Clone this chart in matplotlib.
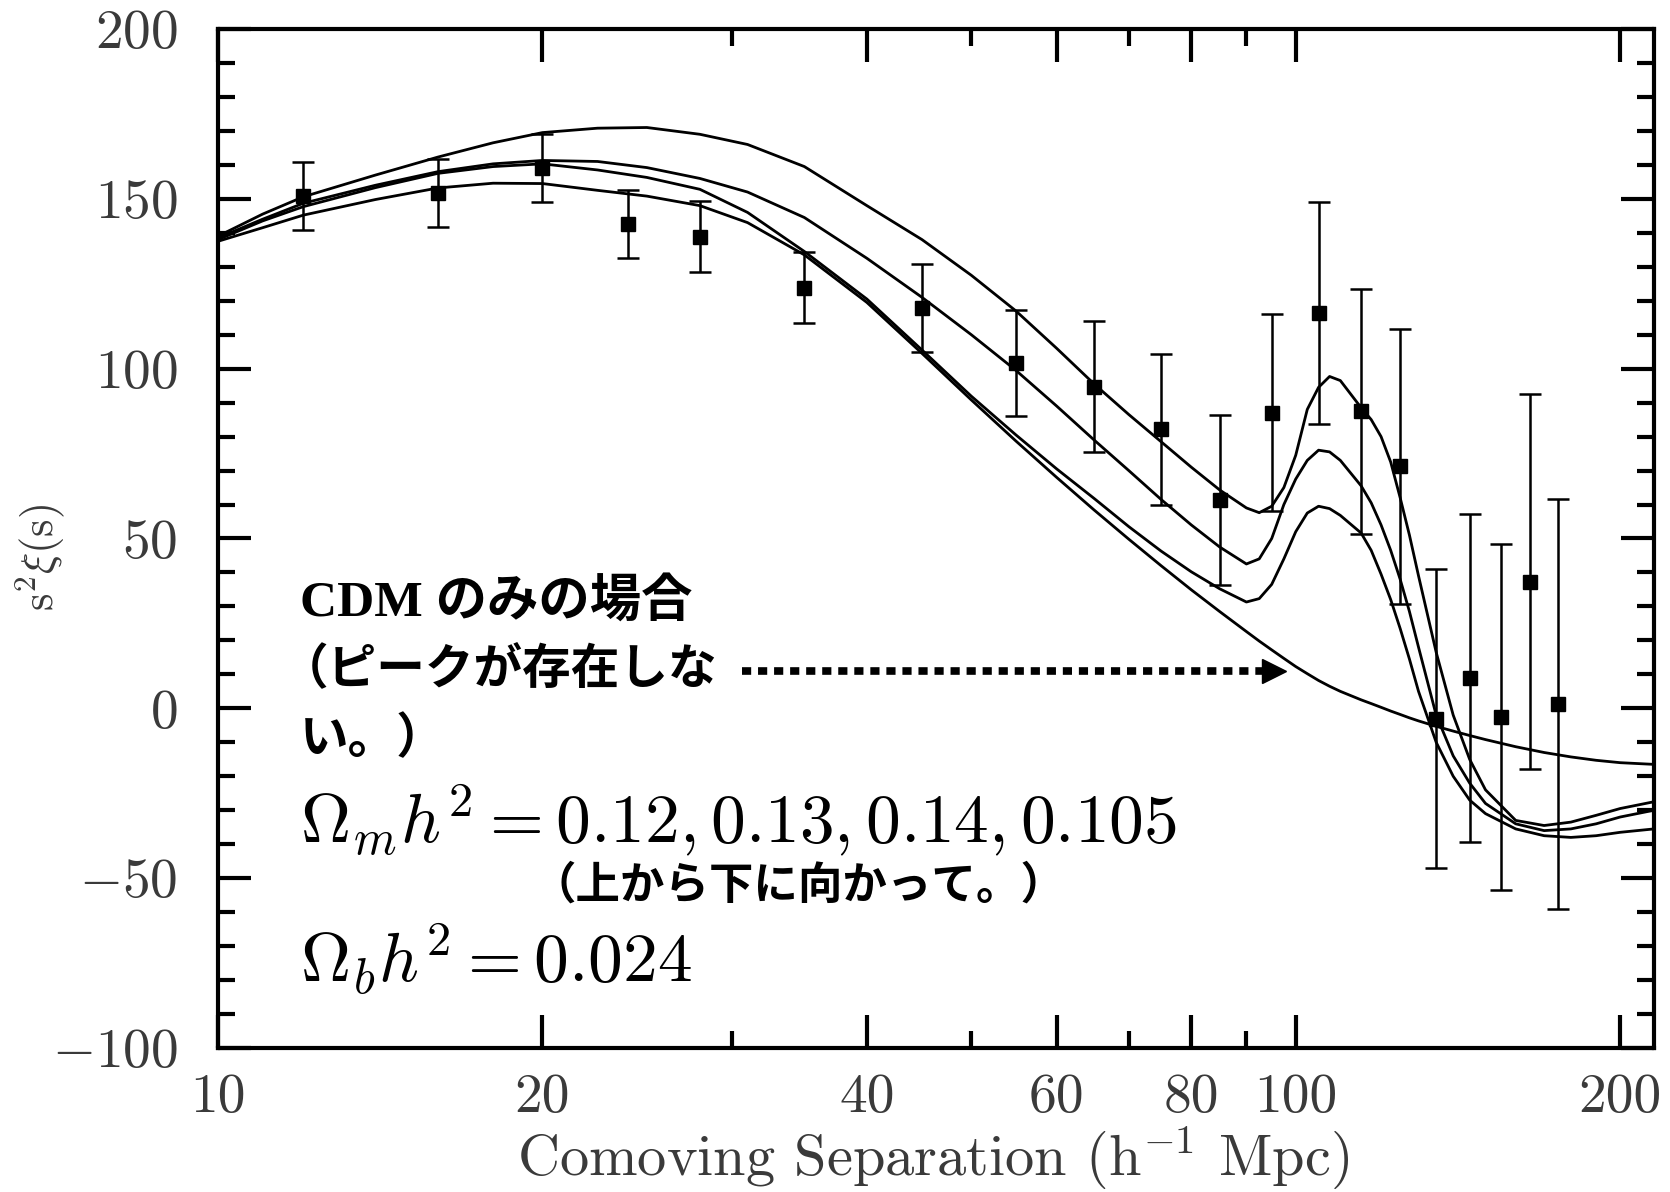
import matplotlib
matplotlib.use('Agg')
import matplotlib.pyplot as plt
from matplotlib.ticker import FixedLocator, NullFormatter

plt.rcParams['mathtext.fontset'] = 'cm'
plt.rcParams['font.family'] = 'cmr10'
plt.rcParams['axes.unicode_minus'] = False

# --- measured correlation function (points with error bars) ---
sep = [12, 16, 20, 24, 28, 35, 45, 55, 65, 75, 85, 95, 105, 115, 125, 135, 145, 155, 165, 175]
xi = [150.8, 151.7, 159.2, 142.6, 138.9, 123.8, 117.9, 101.6, 94.7, 82.1,
      61.4, 87.0, 116.3, 87.4, 71.2, -3.0, 9.0, -2.5, 37.3, 1.2]
xi_err = [10, 10, 10, 10, 10.5, 10.5, 13, 15.6, 19.3, 22.3,
          25, 29, 32.7, 36, 40.5, 44, 48.3, 51, 55.3, 60.3]

# --- model curves (top to bottom at the peak: 0.12, 0.13, 0.14, then CDM only) ---
r_model = [10, 11, 12, 14, 16, 18, 20, 22.5, 25, 28, 31, 35, 40, 45, 50, 55, 60, 65, 70, 75,
           80, 85, 90, 92.5, 95, 97.5, 100, 102.5, 105, 107.5, 110, 115, 117.5, 120, 122.5,
           125, 127.5, 130, 135, 140, 145, 150, 160, 170, 180, 190, 200, 215]
model_012 = [139, 145.5, 150.6, 157, 162.3, 166.5, 169.5, 170.8, 171, 169, 166, 159.5, 148, 138,
             127.5, 117, 106, 95.5, 86.5, 78.5, 71, 64.3, 59, 57.6, 59.5, 65, 74.5, 88, 94.5,
             97.7, 96.5, 88.5, 85, 80, 72.5, 62, 51, 39, 16.5, -2, -15, -24, -33, -34.5, -33.5,
             -31.5, -29.5, -27.5]
model_013 = [138.5, 144, 148.7, 154, 158, 160.3, 161.3, 161, 159.2, 156, 152, 144.5, 132.5, 121,
             110, 99.5, 89, 79, 70, 61.5, 54, 47.5, 42.5, 44, 50, 60, 67.5, 73, 76, 75.5,
             73, 65.5, 60.5, 54, 46.5, 38, 28.5, 18, -2, -14, -22, -28, -34, -36, -35.5,
             -34, -32, -30]
model_014 = [138, 143.5, 147.7, 153.3, 157.5, 159.5, 160.3, 158.5, 156.3, 152.8, 146, 134.5, 120.5,
             105.5, 91.9, 80.5, 70.5, 61.8, 53.5, 46.3, 40.2, 35.2, 31.3, 32.3, 36.5, 44, 52,
             57.5, 59.5, 58.8, 56.8, 51.6, 46.5, 39.5, 32, 23.5, 14.5, 5, -10, -20, -27, -31,
             -35.5, -37.5, -38, -37.5, -36.5, -35.5]
model_cdm = [137.5, 141.5, 145.2, 149.8, 153.2, 154.6, 154.5, 152.5, 150.8, 148, 143, 133.5, 119.5,
             104.5, 90.8, 78.7, 68, 58.4, 49.8, 42, 34.9, 28.5, 22.6, 19.8, 17.2, 14.7, 12.3,
             10.2, 8.2, 6.5, 5.0, 2.5, 1.4, 0.3, -0.8, -1.8, -2.8, -3.7, -5.3, -6.7, -8.0,
             -9.2, -11.3, -13, -14.3, -15.3, -16, -16.5]

xticks = [10, 20, 40, 60, 80, 100, 200]
xtick_labels = ['10', '20', '40', '60', '80', '100', '200']
xminor = [30, 50, 70, 90]
yticks = [-100, -50, 0, 50, 100, 150, 200]
ytick_labels = ['$-100$', '$-50$', '$0$', '$50$', '$100$', '$150$', '$200$']
yminor = [v for v in range(-100, 201, 10) if v % 50 != 0]

W, H = 1670, 1192
fig = plt.figure(figsize=(W / 100, H / 100), dpi=100)
ax = fig.add_axes([218 / W, 1 - 1048 / H, (1654 - 218) / W, (1048 - 29) / H])

for curve in [model_012, model_013, model_014, model_cdm]:
    ax.plot(r_model, curve, color='black', lw=2.0)

ax.errorbar(sep, xi, yerr=xi_err, fmt='s', color='black', ms=10.5,
            capsize=8, elinewidth=1.8, capthick=1.8)

ax.set_xscale('log')
ax.set_xlim(10, 215)
ax.set_ylim(-100, 200)
ax.xaxis.set_major_locator(FixedLocator(xticks))
ax.xaxis.set_minor_locator(FixedLocator(xminor))
ax.xaxis.set_minor_formatter(NullFormatter())
ax.set_xticklabels(xtick_labels)
ax.set_yticks(yticks)
ax.set_yticklabels(ytick_labels)
ax.yaxis.set_minor_locator(FixedLocator(yminor))

txt_col = '#3a3a3a'
ax.tick_params(which='both', direction='in', top=True, right=True, width=3, colors='black',
               labelcolor=txt_col, labelsize=40)
ax.tick_params(which='major', length=24)
ax.tick_params(which='minor', length=12)
ax.tick_params(axis='x', pad=18)
ax.tick_params(axis='y', pad=29)
for sp in ax.spines.values():
    sp.set_linewidth(3)

# axis labels
fig.text(40 / W, 1 - 558 / H, r'$\mathrm{s}^2\xi(\mathrm{s})$', rotation=90,
         ha='center', va='center', fontsize=32, color=txt_col)
fig.text(933 / W, 1 - 1175 / H, r'Comoving Separation (h$^{-1}$ Mpc)',
         ha='center', va='baseline', fontsize=42, color=txt_col)

# annotations
jp = ['Liberation Serif', 'Noto Sans CJK JP']
fig.text(300 / W, 1 - 602 / H, 'CDM のみの場合', family=jp, weight='bold',
         fontsize=37, ha='left', va='center')
fig.text(280 / W, 1 - 671 / H, '（ピークが存在しな', family=jp, weight='bold',
         fontsize=35, ha='left', va='center')
fig.text(300 / W, 1 - 740 / H, 'い。）', family=jp, weight='bold',
         fontsize=35, ha='left', va='center')
fig.text(532 / W, 1 - 886 / H, '（上から下に向かって。）', family=jp, weight='bold',
         fontsize=32, ha='left', va='center')
fig.text(300 / W, 1 - 842 / H, r'$\Omega_m h^2 = 0.12, 0.13, 0.14, 0.105$',
         fontsize=50, ha='left', va='baseline')
fig.text(300 / W, 1 - 982 / H, r'$\Omega_b h^2 = 0.024$',
         fontsize=50, ha='left', va='baseline')

# dotted arrow pointing at the CDM curve
ax.plot([742 / W, 1266 / W], [1 - 671 / H, 1 - 671 / H], transform=fig.transFigure,
        color='black', lw=5.5, ls=(0, (1.2, 0.9)), dash_capstyle='butt')
ax.plot([1274 / W], [1 - 671 / H], transform=fig.transFigure, marker='>',
        color='black', ms=17, clip_on=False)

fig.savefig('out.png', dpi=100)
